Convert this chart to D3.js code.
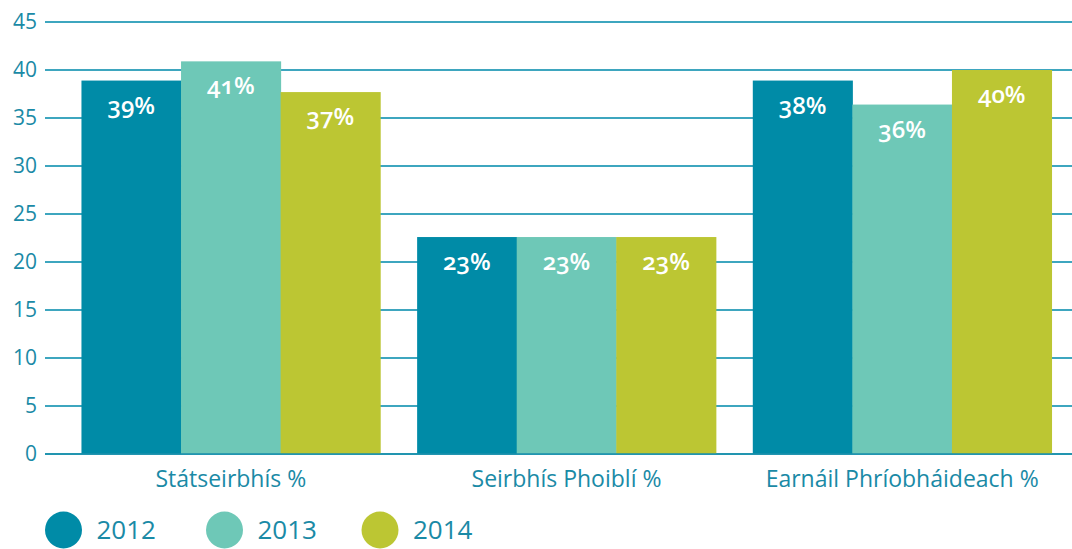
<!DOCTYPE html>
<html lang="ga">
  <head>
    <meta charset="utf-8">
    <title>Chart</title>
    <style>
    body { margin: 0; background: #fff; }
    text { font-family: "Open Sans", "Noto Sans", sans-serif; }
    .grid line { stroke: #3ea6bf; stroke-width: 1.5; shape-rendering: crispEdges; }
    .axis text { fill: #1a8aa6; }
    </style>
    <script src="https://cdn.jsdelivr.net/npm/d3@7"></script>
  </head>
  <body>
    <script>
      // data
      var categories = ["Státseirbhís %", "Seirbhís Phoiblí %", "Earnáil Phríobháideach %"];
      var years = ["2012", "2013", "2014"];
      var v2012 = [38.9, 22.6, 38.9];
      var v2013 = [40.9, 22.6, 36.4];
      var v2014 = [37.7, 22.6, 40.0];
      var labels2012 = ["39%", "23%", "38%"];
      var labels2013 = ["41%", "23%", "36%"];
      var labels2014 = ["37%", "23%", "40%"];
      var yTicks = [0, 5, 10, 15, 20, 25, 30, 35, 40, 45];
      var colors = ["#008ba7", "#6ec8b7", "#bcc633"];

      var width = 1072, height = 549;
      var svg = d3.select("body").append("svg")
          .attr("width", width)
          .attr("height", height);

      var series = [v2012, v2013, v2014];
      var seriesLabels = [labels2012, labels2013, labels2014];

      var y = d3.scaleLinear().domain([0, 45]).range([454, 22]);
      var x0 = d3.scaleBand().domain(categories).range([63, 1070]).paddingInner(0.11).paddingOuter(0.055);
      var x1 = d3.scaleBand().domain(years).range([0, x0.bandwidth()]);

      // gridlines
      svg.append("g").attr("class", "grid")
        .selectAll("line").data(yTicks).enter().append("line")
          .attr("x1", 45).attr("x2", 1072)
          .attr("y1", d => y(d)).attr("y2", d => y(d));

      // y labels
      svg.append("g").attr("class", "axis")
        .selectAll("text").data(yTicks).enter().append("text")
          .attr("x", 37).attr("y", d => y(d))
          .attr("dy", "0.35em")
          .attr("text-anchor", "end")
          .attr("font-size", 21)
          .text(d => d);

      // bars
      var rows = [];
      categories.forEach(function(c, i) {
        years.forEach(function(yr, j) {
          rows.push({ cat: c, year: yr, j: j, value: series[j][i], label: seriesLabels[j][i] });
        });
      });

      var bars = svg.append("g").selectAll("g").data(rows).enter().append("g")
          .attr("transform", d => "translate(" + (x0(d.cat) + x1(d.year)) + ",0)");

      bars.append("rect")
          .attr("x", 0)
          .attr("width", x1.bandwidth() + 0.5)
          .attr("y", d => y(d.value))
          .attr("height", d => y(0) - y(d.value))
          .attr("fill", d => colors[d.j]);

      bars.append("text")
          .attr("x", x1.bandwidth() / 2)
          .attr("y", d => y(d.value) + 33)
          .attr("text-anchor", "middle")
          .attr("font-size", 24)
          .attr("font-weight", 600)
          .attr("fill", "#fff")
          .style("font-variant-numeric", "oldstyle-nums")
          .text(d => d.label);

      // baseline
      svg.append("line")
          .attr("x1", 45).attr("x2", 1072)
          .attr("y1", y(0)).attr("y2", y(0))
          .attr("stroke", "#1a8fab").attr("stroke-width", 1.5);

      // category labels
      svg.append("g").attr("class", "axis")
        .selectAll("text").data(categories).enter().append("text")
          .attr("x", d => x0(d) + x0.bandwidth() / 2)
          .attr("y", 487)
          .attr("text-anchor", "middle")
          .attr("font-size", 23)
          .text(d => d);

      // legend
      var legendX = [63.5, 224.5, 380];
      var legend = svg.append("g").selectAll("g").data(years).enter().append("g")
          .attr("transform", (d, i) => "translate(" + legendX[i] + ",530)");
      legend.append("circle").attr("r", 18.5).attr("fill", (d, i) => colors[i]);
      legend.append("text")
          .attr("x", 33).attr("dy", "0.36em")
          .attr("font-size", 26)
          .attr("fill", "#1a8aa6")
          .text(d => d);
    </script>
  </body>
</html>
